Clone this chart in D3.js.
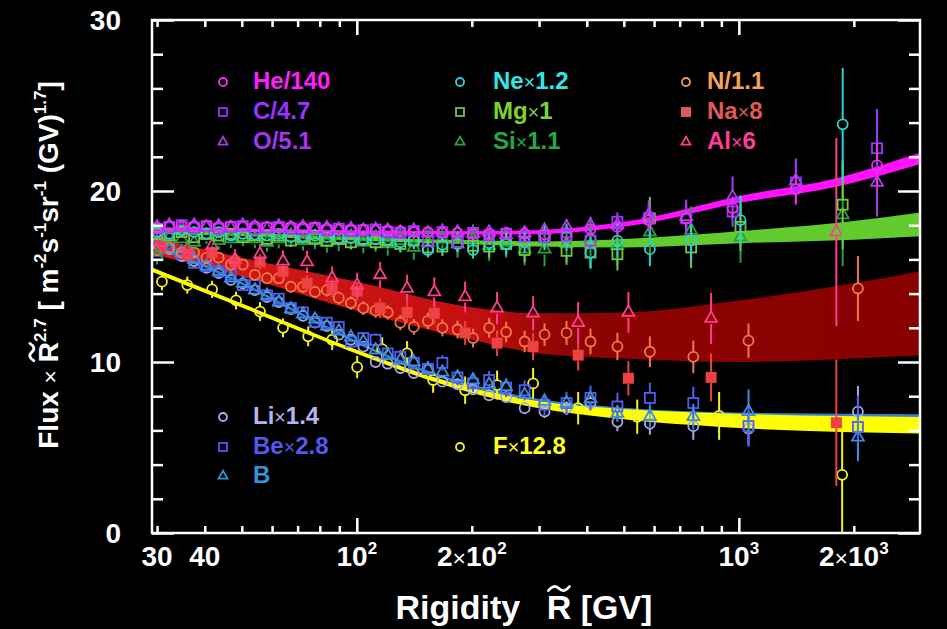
<!DOCTYPE html>
<html>
<head>
<meta charset="utf-8">
<title>Cosmic-ray nuclei: Flux × R̃^2.7 vs rigidity</title>
<script src="https://cdn.jsdelivr.net/npm/d3@7/dist/d3.min.js"></script>
<style>
  html, body { margin: 0; padding: 0; background: #000; }
  svg { display: block; }
  text { font-family: "Liberation Sans", Arial, Helvetica, sans-serif; font-weight: bold; }
</style>
</head>
<body>
<svg id="chart" width="947" height="629"></svg>
<script>
// ---------------- rigidity bins (GV) ----------------
const rigLow = [30.0, 32.3, 34.8, 37.5, 40.4, 43.5, 46.8, 50.3, 54.1, 58.2,
                62.5, 67.2, 72.3, 77.7, 83.5, 89.7, 96.5, 104, 112, 120.5,
                130, 141, 153.5, 167.5, 183.5, 201.5, 222, 246, 275, 310];
const rigHighHeCO   = [354, 409, 481, 581, 728, 963, 1410, 2300];
const rigHighNeMgSi = [354, 409, 481, 585, 750, 1010, 1870];
const rigHighLiBeBN = [354, 409, 481, 585, 760, 1060, 2050];
const rigNaAl = [30.6, 36.0, 41.8, 48.0, 55.8, 64.1, 74.1, 86.2, 100.2, 115.1,
                 135.4, 159.5, 192.1, 232.9, 289.4, 379.7, 514, 846, 1800];
const rigF    = [30.9, 36.0, 41.8, 48.3, 55.8, 64.1, 74.6, 86.2, 100.2, 116.5,
                 135.4, 158.4, 192.1, 232.9, 289.4, 379.7, 542, 888, 1864];

// ---------------- scaled flux values, Flux × R^2.7 ----------------
const fluxHe = [17.85, 17.95, 17.95, 17.95, 17.95, 17.9, 17.95, 17.9, 17.95, 17.9,
                17.85, 17.9, 17.85, 17.85, 17.8, 17.75, 17.75, 17.75, 17.7, 17.7,
                17.65, 17.6, 17.6, 17.55, 17.55, 17.5, 17.5, 17.55, 17.5, 17.45,
                17.55, 17.75, 17.9, 18.3, 18.4, 19.0, 20.1, 21.5];
const errHe  = [0.1, 0.1, 0.1, 0.1, 0.1, 0.1, 0.1, 0.1, 0.1, 0.1,
                0.1, 0.1, 0.1, 0.1, 0.1, 0.1, 0.12, 0.12, 0.12, 0.12,
                0.12, 0.12, 0.13, 0.13, 0.14, 0.15, 0.15, 0.17, 0.18, 0.2,
                0.22, 0.25, 0.3, 0.4, 0.5, 0.6, 0.9, 1.3];
const fluxC  = [17.8, 17.9, 18.0, 17.85, 17.95, 17.8, 17.9, 17.95, 17.8, 17.85,
                17.9, 17.8, 17.75, 17.85, 17.7, 17.8, 17.65, 17.7, 17.75, 17.6,
                17.55, 17.65, 17.05, 17.6, 17.0, 17.55, 17.4, 17.5, 17.35, 17.3,
                17.4, 17.1, 18.2, 18.4, 18.4, 18.8, 20.5, 22.5];
const errC   = [0.15, 0.15, 0.15, 0.15, 0.15, 0.16, 0.16, 0.16, 0.17, 0.17,
                0.18, 0.18, 0.19, 0.19, 0.2, 0.2, 0.21, 0.22, 0.22, 0.23,
                0.24, 0.25, 0.26, 0.27, 0.28, 0.29, 0.3, 0.32, 0.34, 0.36,
                0.4, 0.45, 0.55, 0.8, 0.9, 0.9, 1.2, 2.3];
const fluxO  = [17.9, 18.0, 17.85, 18.0, 17.9, 17.95, 17.85, 18.0, 17.9, 17.8,
                17.95, 17.85, 17.9, 17.8, 17.85, 17.75, 17.8, 17.7, 17.75, 17.7,
                17.6, 17.7, 17.55, 17.65, 17.6, 17.5, 17.6, 17.45, 17.55, 17.7,
                17.9, 18.0, 18.0, 18.6, 18.5, 19.65, 20.6, 20.5];
const errO   = [0.16, 0.16, 0.16, 0.16, 0.16, 0.17, 0.17, 0.17, 0.18, 0.18,
                0.19, 0.19, 0.2, 0.2, 0.21, 0.21, 0.22, 0.23, 0.23, 0.24,
                0.25, 0.26, 0.27, 0.28, 0.3, 0.31, 0.33, 0.35, 0.37, 0.4,
                0.45, 0.5, 0.6, 0.85, 1.0, 1.2, 1.3, 2.0];

const fluxNe = [17.6, 17.5, 17.7, 17.6, 17.5, 17.6, 17.4, 17.5, 17.45, 17.4,
                17.5, 17.3, 17.35, 17.4, 17.3, 17.25, 17.25, 17.15, 17.2, 17.15,
                17.0, 17.1, 16.55, 16.85, 16.9, 16.55, 16.95, 16.9, 17.0, 17.3,
                17.3, 16.4, 17.1, 16.6, 17.1, 18.3, 23.9];
const errNe  = [0.28, 0.28, 0.28, 0.28, 0.28, 0.28, 0.29, 0.29, 0.3, 0.3,
                0.31, 0.31, 0.32, 0.32, 0.33, 0.34, 0.35, 0.36, 0.37, 0.38,
                0.4, 0.42, 0.44, 0.46, 0.48, 0.5, 0.55, 0.58, 0.62, 0.68,
                0.8, 0.95, 1.0, 1.0, 1.2, 1.45, 3.3];
const fluxMg = [17.5, 17.4, 17.6, 17.3, 17.5, 17.4, 17.5, 17.3, 17.4, 17.2,
                17.4, 17.1, 17.3, 17.2, 17.1, 17.2, 17.0, 17.2, 17.0, 17.1,
                16.9, 17.1, 16.7, 16.75, 17.0, 16.8, 16.75, 16.9, 16.55, 17.3,
                16.5, 16.4, 16.3, 18.4, 16.7, 17.9, 19.2];
const errMg  = [0.32, 0.32, 0.32, 0.32, 0.33, 0.33, 0.33, 0.34, 0.34, 0.35,
                0.35, 0.36, 0.37, 0.38, 0.39, 0.4, 0.41, 0.42, 0.44, 0.46,
                0.48, 0.5, 0.52, 0.55, 0.58, 0.6, 0.64, 0.68, 0.72, 0.76,
                0.82, 0.9, 0.95, 1.25, 1.2, 1.4, 2.6];
const fluxSi = [16.2, 17.3, 17.2, 17.0, 17.4, 17.1, 17.2, 17.3, 17.2, 17.0,
                17.2, 17.3, 17.1, 17.2, 17.0, 17.1, 17.2, 17.0, 17.1, 16.9,
                17.1, 16.7, 17.0, 17.2, 16.9, 17.2, 16.8, 17.0, 16.6, 16.6,
                16.9, 17.3, 16.8, 17.6, 17.7, 17.3, 18.6];
const errSi  = [0.5, 0.5, 0.5, 0.5, 0.5, 0.52, 0.52, 0.52, 0.55, 0.55,
                0.55, 0.58, 0.58, 0.6, 0.6, 0.62, 0.62, 0.65, 0.65, 0.68,
                0.7, 0.72, 0.75, 0.78, 0.8, 0.85, 0.88, 0.9, 0.95, 1.0,
                1.05, 1.1, 1.2, 1.3, 1.4, 1.5, 3.0];

const fluxN  = [16.55, 16.7, 16.4, 16.4, 16.1, 16.1, 15.7, 15.7, 15.1, 14.9,
                14.9, 14.4, 14.4, 14.1, 14.2, 13.75, 13.45, 13.15, 13.0, 12.9,
                12.3, 12.05, 12.4, 12.0, 11.9, 11.4, 12.0, 11.75, 11.2, 11.6,
                11.7, 11.2, 10.9, 10.6, 10.3, 11.25, 14.3];
const errN   = [0.3, 0.3, 0.3, 0.3, 0.3, 0.31, 0.31, 0.32, 0.32, 0.33,
                0.33, 0.34, 0.35, 0.36, 0.37, 0.38, 0.39, 0.4, 0.41, 0.42,
                0.44, 0.46, 0.48, 0.5, 0.52, 0.55, 0.58, 0.6, 0.63, 0.66,
                0.7, 0.75, 0.8, 0.9, 0.95, 1.0, 1.9];
const fluxNa = [16.7, 16.3, 16.4, 15.85, 15.85, 15.3, 14.6, 14.3, 14.15, 13.15,
                12.9, 12.85, 11.7, 11.1, 10.9, 10.4, 9.05, 9.1, 6.45];
const errNa  = [0.4, 0.4, 0.4, 0.42, 0.45, 0.45, 0.48, 0.5, 0.55, 0.58,
                0.6, 0.65, 0.7, 0.75, 0.8, 0.9, 1.0, 1.4, 3.7];
const fluxAl = [17.0, 16.6, 16.8, 16.0, 16.3, 15.9, 15.85, 14.9, 14.5, 15.1,
                14.3, 14.1, 13.8, 13.15, 12.85, 12.3, 12.9, 12.55, 17.6];
const errAl  = [0.55, 0.55, 0.55, 0.6, 0.6, 0.62, 0.65, 0.7, 0.72, 0.75,
                0.8, 0.85, 0.9, 0.95, 1.0, 1.2, 1.2, 1.5, 5.5];

const fluxLi = [16.9, 16.6, 16.2, 15.9, 15.5, 15.2, 14.8, 14.6, 14.2, 13.8,
                13.5, 13.1, 12.7, 12.3, 12.1, 11.6, 11.3, 10.9, 10.0, 9.9,
                9.65, 9.35, 9.55, 8.85, 8.7, 8.4, 8.05, 7.95, 7.3, 7.1,
                7.3, 7.6, 6.5, 6.4, 6.25, 6.1, 7.1];
const errLi  = [0.15, 0.15, 0.15, 0.15, 0.15, 0.16, 0.16, 0.16, 0.17, 0.17,
                0.18, 0.18, 0.19, 0.19, 0.2, 0.2, 0.21, 0.22, 0.22, 0.23,
                0.24, 0.25, 0.26, 0.27, 0.28, 0.3, 0.31, 0.33, 0.35, 0.37,
                0.4, 0.45, 0.55, 0.65, 0.8, 1.0, 1.5];
const fluxBe = [16.5, 16.9, 16.3, 15.8, 15.6, 15.3, 15.1, 14.5, 14.5, 13.9,
                13.7, 13.15, 12.9, 12.35, 12.3, 12.05, 11.2, 11.4, 11.3, 10.5,
                10.3, 9.95, 9.6, 9.95, 9.1, 8.75, 8.95, 8.5, 8.35, 7.5,
                7.6, 7.9, 7.4, 7.9, 7.6, 6.25, 6.2];
const errBe  = [0.25, 0.25, 0.25, 0.26, 0.26, 0.27, 0.27, 0.28, 0.28, 0.29,
                0.3, 0.3, 0.31, 0.32, 0.33, 0.34, 0.35, 0.36, 0.37, 0.38,
                0.4, 0.41, 0.43, 0.45, 0.47, 0.5, 0.52, 0.55, 0.58, 0.62,
                0.66, 0.72, 0.8, 0.9, 0.95, 1.2, 1.85];
const fluxB  = [17.0, 16.6, 16.4, 16.0, 15.6, 15.3, 14.9, 14.6, 14.2, 13.9,
                13.5, 13.1, 12.8, 12.5, 12.1, 11.8, 11.45, 11.2, 10.7, 10.4,
                10.1, 10.0, 9.6, 9.4, 9.1, 8.95, 8.7, 8.55, 8.1, 7.7,
                7.6, 7.85, 7.0, 6.8, 6.8, 7.1, 5.6];
const errB   = [0.15, 0.15, 0.15, 0.15, 0.15, 0.15, 0.16, 0.16, 0.16, 0.17,
                0.17, 0.18, 0.18, 0.19, 0.19, 0.2, 0.2, 0.21, 0.22, 0.22,
                0.23, 0.24, 0.25, 0.26, 0.27, 0.28, 0.3, 0.31, 0.33, 0.35,
                0.38, 0.42, 0.5, 0.6, 0.75, 1.3, 1.4];

const fluxF  = [14.7, 14.5, 14.25, 13.6, 12.95, 12.0, 11.5, 11.3, 9.7, 10.75,
                10.5, 8.95, 8.35, 8.65, 8.75, 7.3, 6.8, 6.85, 3.4];
const errF   = [0.5, 0.5, 0.5, 0.52, 0.55, 0.55, 0.58, 0.6, 0.65, 0.7,
                0.72, 0.75, 0.8, 0.85, 0.9, 0.95, 1.0, 1.4, 3.4];

// ---------------- fitted bands (lower / upper edge) ----------------
const bandRigHe = [29.1, 50, 100, 200, 300, 550, 1000, 1800, 2980];
const bandHeLo  = [17.7, 17.6, 17.5, 17.45, 17.48, 18.05, 19.3, 20.25, 21.57];
const bandHeHi  = [17.9, 17.8, 17.7, 17.65, 17.72, 18.35, 19.7, 20.75, 22.23];
const bandRigNe = [29.1, 60, 100, 200, 300, 500, 1000, 2000, 2980];
const bandNeLo  = [17.5, 17.3, 17.1, 16.88, 16.75, 16.7, 16.95, 17.15, 17.35];
const bandNeHi  = [17.7, 17.5, 17.3, 17.12, 17.05, 17.2, 17.65, 18.25, 18.75];
const bandRigN  = [29.1, 50, 100, 200, 300, 500, 1000, 2000, 2980];
const bandNLo   = [16.3, 15.0, 13.0, 11.3, 10.5, 10.2, 10.0, 10.2, 10.4];
const bandNHi   = [17.3, 16.1, 14.7, 13.2, 12.85, 12.9, 13.6, 14.6, 15.3];
const bandRigLi = [29.1, 40, 50, 70, 100, 150, 200, 300, 500, 1000, 2980];
const bandLiLo  = [16.72, 15.52, 14.52, 12.82, 11.07, 9.42, 8.52, 7.67, 7.17, 6.88, 6.75];
const bandLiHi  = [16.88, 15.68, 14.68, 12.98, 11.23, 9.58, 8.68, 7.83, 7.33, 7.04, 6.95];
const bandRigF  = [29.1, 50, 100, 175, 300, 500, 900, 2980];
const bandFLo   = [15.28, 13.18, 10.48, 8.55, 7.3, 6.65, 6.2, 5.82];
const bandFHi   = [15.52, 13.42, 10.72, 8.85, 7.7, 7.25, 7.0, 6.78];

// ---------------- axis ticks and labels ----------------
const xMajorTicks = [100, 1000];
const xMinorTicks = [30, 40, 50, 60, 70, 80, 90, 200, 300, 400, 500, 600, 700, 800, 900, 2000];
const xLabelValues = [30, 40, 100, 200, 1000, 2000];
const xLabelTexts  = ['30', '40', '10^{2}', '2×10^{2}', '10^{3}', '2×10^{3}'];
const yMajorTicks = [0, 10, 20, 30];
const yMinorTicks = [2, 4, 6, 8, 12, 14, 16, 18, 22, 24, 26, 28];

// ---------------- layout ----------------
const W = 947, H = 629;
const L = 152, R = 920, T = 20, B = 533;

const svg = d3.select('#chart');
svg.append('rect').attr('width', W).attr('height', H).attr('fill', '#000');

const x = d3.scaleLog().domain([29.1, 2980]).range([L, R]);
const y = d3.scaleLinear().domain([0, 30]).range([B, T]);

const defs = svg.append('defs');
defs.append('clipPath').attr('id', 'plotArea')
  .append('rect').attr('x', L).attr('y', T).attr('width', R - L).attr('height', B - T);
const grad = defs.append('linearGradient').attr('id', 'redBand')
  .attr('gradientUnits', 'userSpaceOnUse')
  .attr('x1', L).attr('x2', R).attr('y1', 0).attr('y2', 0);
grad.selectAll('stop')
  .data([[0, '#d41818'], [0.42, '#c41010'], [0.54, '#8e0303'], [1, '#870000']])
  .join('stop').attr('offset', d => d[0]).attr('stop-color', d => d[1]);

const plot = svg.append('g').attr('clip-path', 'url(#plotArea)');

// bands
const bands = [
  {rig: bandRigN,  lo: bandNLo,  hi: bandNHi,  fill: 'url(#redBand)'},
  {rig: bandRigNe, lo: bandNeLo, hi: bandNeHi, fill: '#62cc2e'},
  {rig: bandRigHe, lo: bandHeLo, hi: bandHeHi, fill: '#ff10ff'},
  {rig: bandRigLi, lo: bandLiLo, hi: bandLiHi, fill: '#2c86d4'},
  {rig: bandRigF,  lo: bandFLo,  hi: bandFHi,  fill: '#ffff00'}
];
const area = d3.area()
  .x(d => x(d.r)).y0(d => y(d.lo)).y1(d => y(d.hi))
  .curve(d3.curveMonotoneX);
bands.forEach(b => {
  const pts = b.rig.map((r, i) => ({r, lo: b.lo[i], hi: b.hi[i]}));
  plot.append('path').datum(pts).attr('d', area).attr('fill', b.fill);
});

// data series, drawn bottom to top
const series = [
  {rig: rigF,                          val: fluxF,  err: errF,  color: '#f4f41c', shape: 'circle'},
  {rig: rigLow.concat(rigHighLiBeBN),  val: fluxLi, err: errLi, color: '#a8a8ee', shape: 'circle'},
  {rig: rigLow.concat(rigHighLiBeBN),  val: fluxBe, err: errBe, color: '#4f5df2', shape: 'square'},
  {rig: rigLow.concat(rigHighLiBeBN),  val: fluxB,  err: errB,  color: '#3a8ede', shape: 'triangle'},
  {rig: rigLow.concat(rigHighLiBeBN),  val: fluxN,  err: errN,  color: '#f47a45', shape: 'circle'},
  {rig: rigNaAl,                       val: fluxNa, err: errNa, color: '#ec4242', shape: 'filledSquare'},
  {rig: rigNaAl,                       val: fluxAl, err: errAl, color: '#ff3d8c', shape: 'triangle'},
  {rig: rigLow.concat(rigHighNeMgSi),  val: fluxSi, err: errSi, color: '#1fa446', shape: 'triangle'},
  {rig: rigLow.concat(rigHighNeMgSi),  val: fluxMg, err: errMg, color: '#72c935', shape: 'square'},
  {rig: rigLow.concat(rigHighNeMgSi),  val: fluxNe, err: errNe, color: '#25d4d4', shape: 'circle'},
  {rig: rigLow.concat(rigHighHeCO),    val: fluxO,  err: errO,  color: '#a93ee8', shape: 'triangle'},
  {rig: rigLow.concat(rigHighHeCO),    val: fluxC,  err: errC,  color: '#9a38ff', shape: 'square'},
  {rig: rigLow.concat(rigHighHeCO),    val: fluxHe, err: errHe, color: '#f22cf2', shape: 'circle'}
];

const markerGap = {circle: 5, square: 5, triangle: 5.5, filledSquare: 5.5};

function drawMarker(g, shape, cx, cy, color, scale) {
  const k = scale || 1;
  if (shape === 'circle') {
    g.append('circle').attr('cx', cx).attr('cy', cy).attr('r', 5 * k)
      .attr('fill', 'none').attr('stroke', color).attr('stroke-width', 1.8);
  } else if (shape === 'square') {
    const s = 10 * k;
    g.append('rect').attr('x', cx - s / 2).attr('y', cy - s / 2).attr('width', s).attr('height', s)
      .attr('fill', 'none').attr('stroke', color).attr('stroke-width', 1.8);
  } else if (shape === 'filledSquare') {
    const s = 11 * k;
    g.append('rect').attr('x', cx - s / 2).attr('y', cy - s / 2).attr('width', s).attr('height', s)
      .attr('fill', color);
  } else {
    g.append('path').attr('transform', `translate(${cx},${cy})`)
      .attr('d', d3.symbol(d3.symbolTriangle, 62 * k * k)())
      .attr('fill', 'none').attr('stroke', color).attr('stroke-width', 1.8)
      .attr('stroke-linejoin', 'miter');
  }
}

series.forEach(s => {
  const g = plot.append('g');
  const pts = s.rig.map((r, i) => ({r, v: s.val[i], e: s.err[i]}));
  const gap = markerGap[s.shape];
  pts.forEach(d => {
    const cx = x(d.r), cy = y(d.v);
    const top = y(d.v + d.e), bot = y(d.v - d.e);
    if (cy - top > gap) {
      g.append('line').attr('x1', cx).attr('x2', cx).attr('y1', top).attr('y2', cy - gap)
        .attr('stroke', s.color).attr('stroke-width', 2);
    }
    if (bot - cy > gap) {
      g.append('line').attr('x1', cx).attr('x2', cx).attr('y1', cy + gap).attr('y2', bot)
        .attr('stroke', s.color).attr('stroke-width', 2);
    }
    drawMarker(g, s.shape, cx, cy, s.color, 1);
  });
});

// ---------------- frame and ticks ----------------
function styleAxis(sel) {
  sel.select('.domain').remove();
  sel.selectAll('.tick line').attr('stroke', '#fff').attr('stroke-width', 2.5);
  sel.selectAll('.tick text').remove();
}
svg.append('g').attr('transform', `translate(0,${B})`)
  .call(d3.axisBottom(x).tickValues(xMajorTicks).tickSize(-15).tickFormat(() => '')).call(styleAxis);
svg.append('g').attr('transform', `translate(0,${B})`)
  .call(d3.axisBottom(x).tickValues(xMinorTicks).tickSize(-7).tickFormat(() => '')).call(styleAxis);
svg.append('g').attr('transform', `translate(0,${T})`)
  .call(d3.axisTop(x).tickValues(xMajorTicks).tickSize(-15).tickFormat(() => '')).call(styleAxis);
svg.append('g').attr('transform', `translate(0,${T})`)
  .call(d3.axisTop(x).tickValues(xMinorTicks).tickSize(-7).tickFormat(() => '')).call(styleAxis);
svg.append('g').attr('transform', `translate(${L},0)`)
  .call(d3.axisLeft(y).tickValues(yMajorTicks).tickSize(-22).tickFormat(() => '')).call(styleAxis);
svg.append('g').attr('transform', `translate(${L},0)`)
  .call(d3.axisLeft(y).tickValues(yMinorTicks).tickSize(-11).tickFormat(() => '')).call(styleAxis);
svg.append('g').attr('transform', `translate(${R},0)`)
  .call(d3.axisRight(y).tickValues(yMajorTicks).tickSize(-22).tickFormat(() => '')).call(styleAxis);
svg.append('g').attr('transform', `translate(${R},0)`)
  .call(d3.axisRight(y).tickValues(yMinorTicks).tickSize(-11).tickFormat(() => '')).call(styleAxis);

svg.append('rect').attr('x', L).attr('y', T).attr('width', R - L).attr('height', B - T)
  .attr('fill', 'none').attr('stroke', '#fff').attr('stroke-width', 2.5);

// ---------------- rich text helper ----------------
// '^{..}' is a superscript, '×' is drawn lighter, '{R~}' is an R that gets a tilde
function rich(textSel, str, size) {
  const supSize = Math.round(size * 0.62), rise = Math.round(size * 0.42);
  let raised = false, idx = 0, tildeIdx = -1;
  str.split(/(\^\{[^}]*\}|×|\{R~\})/).filter(t => t.length).forEach(tok => {
    const ts = textSel.append('tspan');
    if (tok.startsWith('^{')) {
      const t = tok.slice(2, -1);
      ts.text(t).attr('font-size', supSize);
      if (!raised) { ts.attr('dy', -rise); raised = true; }
      idx += t.length;
      return;
    }
    if (raised) { ts.attr('dy', rise); raised = false; }
    if (tok === '×') {
      ts.text('×').attr('font-weight', 'normal').attr('font-size', size * 0.82);
      idx += 1;
    } else if (tok === '{R~}') {
      ts.text('R'); tildeIdx = idx; idx += 1;
    } else {
      ts.text(tok); idx += tok.length;
    }
  });
  return tildeIdx;
}
function addTilde(parent, textSel, charIdx, baseY, size) {
  const ext = textSel.node().getExtentOfChar(charIdx);
  const cx = ext.x + ext.width / 2;
  const ty = baseY - size * 0.72 - 6;
  const w = size * 0.62;
  parent.append('path')
    .attr('d', `M${cx - w / 2},${ty + 2} Q${cx - w / 4},${ty - 5} ${cx},${ty} T${cx + w / 2},${ty - 2}`)
    .attr('fill', 'none').attr('stroke', '#fff').attr('stroke-width', 2.8).attr('stroke-linecap', 'round');
}

// ---------------- tick labels ----------------
xLabelValues.forEach((v, i) => {
  const t = svg.append('text').attr('x', x(v)).attr('y', 566)
    .attr('text-anchor', 'middle').attr('fill', '#fff').attr('font-size', 28);
  rich(t, xLabelTexts[i], 28);
});
yMajorTicks.forEach(v => {
  svg.append('text').attr('x', 121).attr('y', y(v) + 10)
    .attr('text-anchor', 'end').attr('fill', '#fff').attr('font-size', 28).text(v);
});

// ---------------- axis titles ----------------
const xt = svg.append('text').attr('x', 524).attr('y', 619).attr('text-anchor', 'middle')
  .attr('fill', '#fff').attr('font-size', 34);
const xTilde = rich(xt, 'Rigidity\u2002 {R~} [GV]', 34);
addTilde(svg, xt, xTilde, 619, 34);

const yg = svg.append('g').attr('transform', 'rotate(-90)');
const yt = yg.append('text').attr('x', -265).attr('y', 58).attr('text-anchor', 'middle')
  .attr('fill', '#fff').attr('font-size', 28);
const yTilde = rich(yt, 'Flux × {R~}^{2.7} [ m^{-2}s^{-1}sr^{-1} (GV)^{1.7}]', 28);
addTilde(yg, yt, yTilde, 58, 28);

// ---------------- legends ----------------
const legendEntries = [
  {mx: 223, my: 82,  tx: 253, label: 'He/140', color: '#f030f0', text: '#ff1eff', shape: 'circle'},
  {mx: 223, my: 112, tx: 253, label: 'C/4.7',  color: '#9438f8', text: '#9933ff', shape: 'square'},
  {mx: 223, my: 142, tx: 253, label: 'O/5.1',  color: '#a03ee0', text: '#a234f2', shape: 'triangle'},
  {mx: 460, my: 82,  tx: 493, label: 'Ne×1.2', color: '#25d4d4', text: '#2ee8e8', shape: 'circle'},
  {mx: 460, my: 112, tx: 493, label: 'Mg×1',   color: '#74c238', text: '#7dd32f', shape: 'square'},
  {mx: 460, my: 142, tx: 493, label: 'Si×1.1', color: '#24a048', text: '#25a84a', shape: 'triangle'},
  {mx: 686, my: 82,  tx: 707, label: 'N/1.1',  color: '#e8a060', text: '#f3a352', shape: 'circle'},
  {mx: 686, my: 112, tx: 707, label: 'Na×8',   color: '#e05a5a', text: '#e05858', shape: 'filledSquare'},
  {mx: 686, my: 142, tx: 707, label: 'Al×6',   color: '#ff3c96', text: '#ff3c96', shape: 'triangle'},
  {mx: 223, my: 417, tx: 253, label: 'Li×1.4', color: '#b0b0ee', text: '#b4b4f0', shape: 'circle'},
  {mx: 223, my: 447, tx: 253, label: 'Be×2.8', color: '#5558ee', text: '#5558ee', shape: 'square'},
  {mx: 223, my: 476, tx: 253, label: 'B',      color: '#3394dc', text: '#3394dc', shape: 'triangle'},
  {mx: 460, my: 447, tx: 493, label: 'F×12.8', color: '#f4f41c', text: '#ffff1a', shape: 'circle'}
];
const lg = svg.append('g');
legendEntries.forEach(e => {
  const scale = e.shape === 'filledSquare' ? 0.9 : (e.shape === 'triangle' ? 0.75 : 0.8);
  drawMarker(lg, e.shape, e.mx, e.my, e.color, scale);
  const t = lg.append('text').attr('x', e.tx).attr('y', e.my + 7)
    .attr('fill', e.text).attr('font-size', 24);
  rich(t, e.label, 24);
});
</script>
</body>
</html>
